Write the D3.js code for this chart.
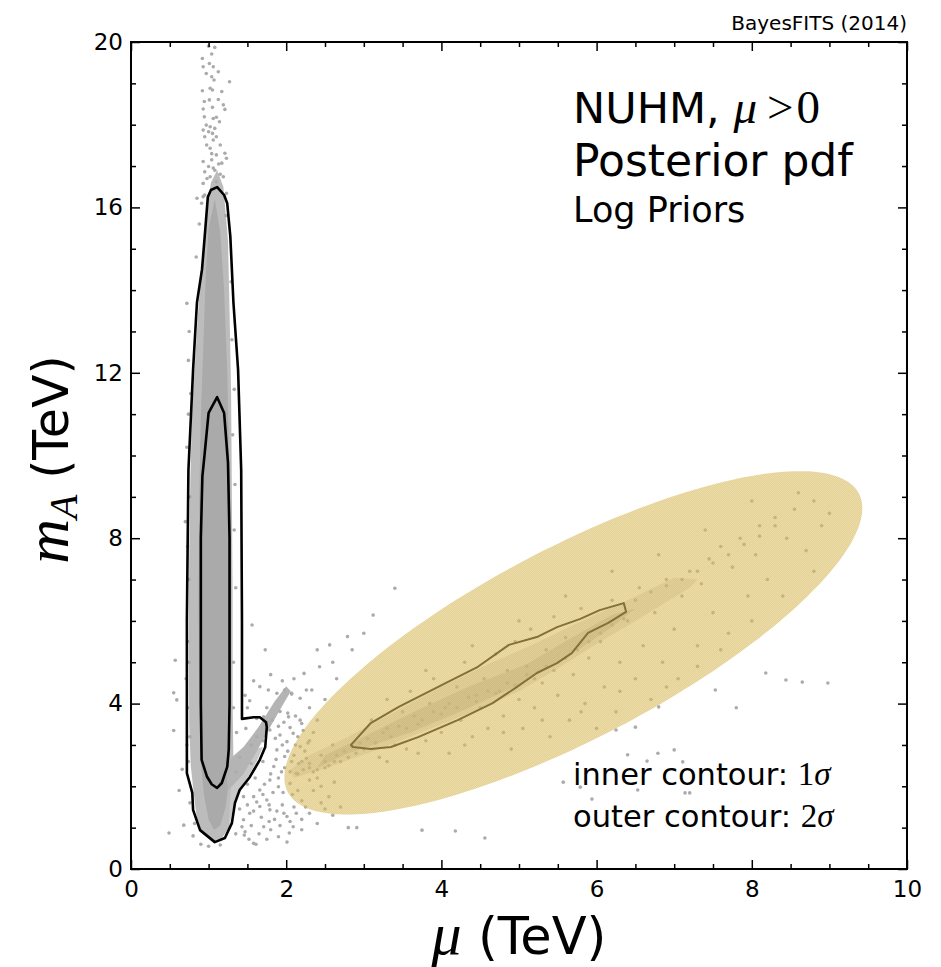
<!DOCTYPE html>
<html lang="en">
<head>
<meta charset="UTF-8">
<title>NUHM posterior pdf, mu vs mA</title>
<script src="https://d3js.org/d3.v7.min.js"></script>
<style>
    body { margin: 0; background: #fff; }
    svg { display: block; }
    .tick text { font-family: "DejaVu Sans", sans-serif; font-size: 23px; fill: #000; }
    .tick line { stroke: #000; stroke-width: 1.5px; }
    .lbl { font-family: "DejaVu Sans", sans-serif; fill: #000; }
    .math { font-family: "Liberation Serif", serif; font-style: italic; }
    .mathup { font-family: "Liberation Serif", serif; }
</style>
</head>
<body>
<svg id="chart" width="941" height="967"></svg>
<script>
// ---- axes / ticks ----
const xTicks = [0, 2, 4, 6, 8, 10];
const yTicks = [0, 4, 8, 12, 16, 20];
const xMinorTicks = [0.5, 1, 1.5, 2.5, 3, 3.5, 4.5, 5, 5.5, 6.5, 7, 7.5, 8.5, 9, 9.5];
const yMinorTicks = [1, 2, 3, 5, 6, 7, 9, 10, 11, 13, 14, 15, 17, 18, 19];

// ---- contours (mu, mA) in TeV ----
const outerContourLeft = [[1.11,16.49],[1.20,16.3],[1.24,16.1],[1.28,15.3],[1.32,13.7],[1.38,12.07],[1.42,9.65],
    [1.43,6.0],[1.43,3.63],[1.58,3.67],[1.66,3.67],[1.74,3.55],[1.75,3.43],[1.73,2.95],[1.66,2.64],[1.53,2.22],
    [1.40,1.91],[1.34,1.6],[1.30,1.11],[1.21,0.75],[1.08,0.65],[0.89,0.94],[0.80,1.43],[0.79,1.84],[0.72,2.32],
    [0.72,6.0],[0.74,9.65],[0.80,12.07],[0.85,13.7],[0.915,14.5],[0.95,15.3],[0.99,16.25],[1.03,16.42]];
const innerContourLeft = [[1.11,11.41],[1.2,11.03],[1.25,9.82],[1.27,8.0],[1.27,4.0],[1.26,2.9],[1.24,2.47],
    [1.17,2.08],[1.11,1.96],[1.04,2.05],[0.98,2.23],[0.91,2.64],[0.90,4.0],[0.90,8.0],[0.92,9.5],[0.95,10.06],[1.0,11.03]];
const innerContourRight = [[2.835,3.00],[3.09,3.53],[3.45,3.92],[4.06,4.50],[4.47,4.89],[4.87,5.42],[5.23,5.61],
    [5.49,5.85],[5.79,6.05],[6.04,6.26],[6.35,6.43],[6.38,6.22],[6.15,5.95],[5.89,5.71],[5.68,5.22],[5.49,4.98],
    [5.23,4.74],[4.97,4.40],[4.66,4.01],[4.21,3.60],[3.70,3.19],[3.35,2.95],[3.09,2.90],[2.86,2.95]];

// ---- highlighted ellipse: centre, end of major axis, end of minor axis ----
const ellipseCenter = [5.70, 5.47];
const ellipseMajorTip = [9.38, 9.08];
const ellipseMinorTip = [5.13, 7.52];

// ---- dense parts of the sample cloud ----
const cloudHalo = [[1.11,16.9],[1.03,16.6],[0.97,15.9],[0.92,14.8],[0.87,13.6],[0.83,12.4],[0.79,11.2],[0.765,9.5],
    [0.75,7.5],[0.745,5.5],[0.75,3.5],[0.77,2.5],[0.81,1.8],[0.85,1.2],[0.92,0.85],[1.05,0.68],[1.17,0.74],[1.26,1.0],
    [1.31,1.5],[1.36,2.0],[1.32,2.6],[1.31,4.0],[1.31,6.5],[1.30,9.0],[1.29,11.5],[1.27,13.5],[1.25,15.2],[1.19,16.5]];
const cloudCore = [[1.08,16.2],[1.0,15.5],[0.96,14.2],[0.93,12.5],[0.9,11.0],[0.88,9.0],[0.87,6.5],[0.88,4.0],
    [0.9,2.6],[0.94,1.8],[1.0,1.2],[1.07,0.95],[1.15,1.05],[1.22,1.5],[1.27,2.3],[1.28,4.0],[1.28,7.0],[1.27,9.5],
    [1.24,12.0],[1.2,14.0],[1.15,15.4]];
const cloudStreak = [[1.25,1.9],[1.45,2.3],[1.62,2.85],[1.80,3.45],[1.95,3.95],[2.06,4.3],[2.0,4.42],[1.85,4.05],
    [1.65,3.45],[1.45,2.95],[1.3,2.7],[1.22,2.4]];
const cloudBulge = [[1.26,1.0],[1.32,1.5],[1.38,1.9],[1.5,2.2],[1.62,2.6],[1.7,2.95],[1.6,2.9],[1.45,2.6],
    [1.32,2.4],[1.28,1.8]];
const ridgeWide = [[2.1,2.2],[2.6,2.5],[3.2,2.9],[3.8,3.35],[4.4,3.8],[5.0,4.3],[5.5,4.85],[6.0,5.45],[6.5,6.0],
    [7.2,6.8],[7.3,7.0],[7.0,7.05],[6.4,6.5],[5.7,5.9],[5.2,5.45],[4.6,4.95],
    [4.0,4.4],[3.4,3.8],[2.8,3.2],[2.3,2.75],[2.05,2.4]];
const ridgeCore = [[2.4,2.45],[2.8,2.8],[3.6,3.3],[4.3,3.85],[5.0,4.45],[5.6,5.1],[6.2,5.85],[6.5,6.3],[6.2,6.15],
    [5.5,5.4],[5.1,4.95],[4.4,4.45],[3.7,3.85],[3.0,3.2],[2.5,2.75]];

// ---- individual samples ----
const spikePts = [[1.0,19.90],[1.08,19.87],[1.04,19.71],[0.92,19.60],[1.01,19.48],[0.93,19.40],[1.06,19.40],
    [0.97,19.24],[1.125,19.28],[1.27,19.04],[1.04,19.16],[1.07,19.08],[0.92,18.82],[1.02,18.88],[1.05,18.84],
    [1.17,18.80],[0.945,18.56],[1.01,18.60],[1.125,18.61],[1.05,18.42],[1.19,18.48],[1.21,18.37],[0.93,18.38],
    [0.945,18.19],[1.06,18.15],[1.10,18.18],[1.14,18.07],[0.97,17.99],[1.02,17.95],[1.08,17.91],[0.93,17.87],
    [1.0,17.83],[1.05,17.79],[0.95,17.71],[1.10,17.71],[1.06,17.63],[0.975,17.51],[1.15,17.51],[1.02,17.43],
    [1.21,17.31],[1.23,17.19],[0.93,17.11],[1.10,17.27],[1.04,17.15],[1.17,17.07],[1.0,16.99],[1.08,16.90],
    [0.95,16.86],[1.19,16.74],[1.02,16.74],[0.93,16.58],[1.10,16.62],[0.85,16.22],[0.93,16.26],[1.23,16.34],[0.91,16.10],
    [1.13,17.05],[1.06,16.95],[0.98,16.7],[1.15,16.8],[1.04,17.3]];
const clusterEdgePts = [[0.74,12.3],[0.72,13.68],[0.75,13.0],[0.77,11.5],[0.74,11.0],[0.76,9.0],[0.7,8.4],[0.75,7.0],
    [0.73,5.5],[0.75,5.0],[0.57,5.05],[0.59,4.09],[0.76,3.2],[0.74,2.6],[0.55,4.26],[0.55,3.35],[0.66,2.41],[0.62,1.9],
    [0.68,1.06],[0.49,0.87],[0.8,0.8],[0.9,0.6],[1.0,0.55],[1.15,0.58],[1.31,10.5],[1.33,8.2],[1.3,12.8],[1.29,14.2],
    [1.35,6.8],[1.32,5.0],[0.84,14.8],[0.88,15.6],[0.95,16.3],[1.22,15.8],[0.72,10.2],[0.73,7.8],[0.71,4.6],
    [0.73,3.9],[0.72,3.0],[0.76,1.6],[0.82,1.1],[1.33,11.6],[1.34,9.3],[1.32,3.9],[1.36,3.3],[1.4,2.7],[1.35,2.35]];
const midPts = [[1.53,4.07],[1.66,4.41],[1.88,4.25],[1.98,4.33],[2.07,4.23],[2.18,4.13],[2.26,4.33],[1.79,3.36],
    [1.86,3.16],[1.92,3.24],[2.01,3.08],[2.09,3.28],[2.18,2.96],[1.88,2.88],[1.98,2.72],[2.07,2.6],[1.84,2.48],
    [1.94,2.35],[1.79,2.15],[1.90,1.99],[1.66,1.91],[1.58,1.75],[1.75,1.67],[1.66,1.51],[1.53,1.35],[1.79,1.43],
    [1.45,1.19],[2.01,1.27],[1.71,1.02],[1.47,0.9],[2.13,1.35],[2.09,1.02],[1.58,0.62],[1.90,0.78],[1.43,1.02],
    [2.05,2.07],[2.13,2.31],[2.26,2.68],[2.2,3.52],[2.03,3.68],[1.92,3.81],[1.71,3.68],[1.62,3.64],[1.46,0.82],
    [1.61,0.6],[2.01,0.65],[2.04,0.87],[2.8,1.0],[2.91,1.0],[3.75,0.94],[4.18,0.92],[4.56,0.75],[3.40,6.79],
    [3.12,6.14],[2.79,5.62],[2.56,5.42],[2.43,4.89],[2.23,4.73],[2.07,4.25],[2.33,4.33],[2.02,3.77],[2.18,3.60],
    [1.56,5.9],[1.73,5.3],[1.77,4.33],[1.47,4.2],[2.35,1.9],[2.45,1.6],[2.25,1.5],[2.6,1.3],[2.15,1.9],[2.3,3.1],
    [2.4,3.6],[2.5,4.1],[2.65,4.6],[2.3,3.9],[2.12,3.0],[2.22,2.4],[1.7,2.6],[1.6,2.2],[1.5,1.55],[1.85,1.2],[1.95,1.55],
    [1.75,3.9],[1.82,3.6],[1.9,3.45],[1.97,3.55],[2.05,3.42],[2.12,3.7],[2.15,3.2],[2.22,3.35],[2.28,3.05],[2.35,3.3],
    [1.95,3.0],[2.02,2.85],[2.1,2.75],[2.16,2.55],[2.24,2.85],[2.3,2.55],[1.87,2.65],[1.8,2.3],[1.9,2.2],[1.98,2.45],
    [2.05,2.35],[1.72,2.05],[1.83,1.85],[1.96,1.85],[2.08,1.8],[2.2,1.65],[1.7,1.8],[1.62,1.62],[1.78,1.55],[1.88,1.4],
    [1.97,1.35],[2.1,1.5],[2.2,1.2],[2.3,1.35],[1.58,1.4],[1.68,1.25],[1.78,1.15],[1.92,1.05],[2.05,1.15],[1.55,1.05],
    [1.65,0.85],[1.8,0.95],[1.52,0.72],[1.75,0.72],[2.2,0.95],[2.4,1.1],[2.5,1.45],[2.45,2.0],[2.55,1.75],[2.7,1.5],
    [2.62,2.1],[2.4,2.2],[1.55,2.55],[1.5,2.05],[1.45,1.75],[1.35,0.85],[1.4,1.45],[1.62,3.2],[1.55,3.0],[1.7,3.1],
    [1.48,3.4],[1.5,3.9],[1.58,4.55],[1.8,4.7],[1.95,4.55],[2.1,4.6],[2.4,5.3],[2.6,5.0],[2.85,5.3],[3.0,5.7]];
const ellipsePts = [[2.15,2.3],[2.3,2.45],[2.4,2.4],[2.5,2.6],[2.55,2.5],[2.65,2.75],[2.7,2.6],[2.75,2.85],[2.9,2.8],
    [2.95,3.05],[2.3,2.15],[2.45,2.75],[2.6,3.0],[2.2,2.6],
    [3.1,3.6],[3.2,2.7],[3.3,3.4],[3.4,3.0],[3.5,3.8],[3.55,2.9],[3.6,4.3],[3.7,3.5],[3.8,3.1],[3.85,4.0],[3.9,4.6],
    [4.0,3.3],[4.05,3.9],[4.1,2.8],[4.2,4.4],[4.25,3.6],[4.3,5.0],[4.4,3.2],[4.45,4.2],[4.5,3.9],[4.55,4.6],[4.6,3.4],
    [4.7,5.2],[4.75,4.3],[4.8,3.7],[4.85,4.8],[4.9,2.9],[4.95,5.5],[5.0,4.1],[5.05,3.4],
    [5.1,4.9],[5.15,5.8],[5.2,3.9],[5.3,4.5],[5.35,5.3],[5.4,3.2],[5.45,6.1],[5.5,4.2],[5.6,5.6],[5.65,3.6],[5.7,4.7],
    [5.8,6.3],[5.85,4.0],[5.9,5.1],[6.0,3.4],[6.05,5.5],[6.1,4.4],[6.2,6.5],[6.25,3.8],[6.3,5.0],[6.4,6.0],[6.5,4.6],
    [6.55,6.8],[6.6,5.4],[6.7,4.1],[6.75,6.2],[6.85,5.0],[6.9,7.0],[7.0,5.8],[7.05,4.6],
    [7.1,6.6],[7.2,7.2],[7.3,5.4],[7.35,6.9],[7.45,7.5],[7.5,6.2],[7.6,7.8],[7.7,5.7],[7.75,7.3],[7.85,8.0],[7.95,6.6],
    [8.05,7.6],[8.1,8.3],[8.2,7.0],[8.3,8.5],[8.45,8.0],[8.55,8.7],[8.7,7.7],[8.8,8.9],[8.9,8.3],
    [6.5,6.5],[6.7,6.7],[6.9,6.85],[7.1,7.0],[7.3,7.2],[7.5,7.4],[7.7,7.6],[7.9,7.85],[8.1,8.05],[8.3,8.3],
    [2.35,2.35],[2.5,2.45],[2.62,2.6],[2.8,2.7],[2.85,2.95],[3.0,2.9],[3.05,3.15],[3.15,3.05],[3.25,3.3],[3.35,3.2],
    [3.45,3.45],[3.55,3.4],[3.65,3.7],[3.75,3.6],[3.9,3.8],[4.0,3.75],[4.1,4.0],[4.2,3.9],[4.35,4.15],[4.45,4.05],
    [4.6,4.3],[4.7,4.25],[4.85,4.5],[4.95,4.45],[5.1,4.7],[5.2,4.6],[5.35,4.9],[5.45,4.8],[5.6,5.1],[5.75,5.3],
    [5.9,5.5],[6.05,5.7],[6.2,5.9],[6.35,6.05],[3.3,2.6],[3.7,2.8],[4.3,3.0],[4.8,3.3],[5.3,3.6],[5.8,3.8],[6.3,4.3],
    [6.9,4.4],[7.3,4.9],[7.6,5.3],[8.0,6.0],[8.4,6.6],[8.8,7.2],[3.3,4.1],[3.8,4.8],[4.4,5.4],[5.0,6.0],[5.6,6.6],
    [6.2,7.2],[6.8,7.6],[7.4,8.2],[8.0,8.9],[8.6,9.1],[9.0,8.6]];
const rightPts = [[8.18,4.74],[8.44,4.57],[8.65,4.52],[7.53,4.33],[8.98,4.5],[5.57,2.1],[5.79,1.98],[5.94,1.69],
    [6.53,1.91],[6.65,2.61],[6.79,2.8],[7.11,2.59],[7.14,1.84],[7.2,1.84],[6.25,3.36],[6.5,3.43],[7.0,2.88],
    [6.4,2.76],[6.8,3.92],[7.8,3.9]];

// ---- layout ----
const margin = { top: 42, right: 34, bottom: 98, left: 131 };
const width = 941 - margin.left - margin.right;
const height = 967 - margin.top - margin.bottom;

const svg = d3.select('#chart');
const chart = svg.append('g').attr('transform', `translate(${margin.left},${margin.top})`);

const x = d3.scaleLinear().domain([0, 10]).range([0, width]);
const y = d3.scaleLinear().domain([0, 20]).range([height, 0]);

// texture for the ellipse
const defs = svg.append('defs');
const pat = defs.append('pattern').attr('id', 'dots').attr('patternUnits', 'userSpaceOnUse')
    .attr('width', 2).attr('height', 2);
pat.append('rect').attr('width', 2).attr('height', 2).attr('fill', '#e0c46c');
pat.append('rect').attr('width', 1).attr('height', 1).attr('fill', '#d2b252');
pat.append('rect').attr('x', 1).attr('y', 1).attr('width', 1).attr('height', 1).attr('fill', '#d2b252');
defs.append('clipPath').attr('id', 'clip').append('rect').attr('width', width).attr('height', height);

const plot = chart.append('g').attr('clip-path', 'url(#clip)');

const area = d3.line().x(d => x(d[0])).y(d => y(d[1])).curve(d3.curveLinearClosed);

// sample cloud
plot.append('path').datum(cloudHalo).attr('d', area).attr('fill', '#bcbcbc');
plot.append('path').datum(cloudBulge).attr('d', area).attr('fill', '#c8c8c8');
plot.append('path').datum(cloudCore).attr('d', area).attr('fill', '#aaaaaa');
plot.append('path').datum(cloudStreak).attr('d', area).attr('fill', '#b4b4b4');
plot.append('path').datum(ridgeWide).attr('d', area).attr('fill', '#b0b0b0').attr('opacity', 0.35);
plot.append('path').datum(ridgeCore).attr('d', area).attr('fill', '#a0a0a0').attr('opacity', 0.45);

const allPts = [].concat(spikePts, clusterEdgePts, midPts, ellipsePts, rightPts);
plot.selectAll('circle.pt')
    .data(allPts)
    .join('circle')
    .attr('class', 'pt')
    .attr('cx', d => x(d[0]))
    .attr('cy', d => y(d[1]))
    .attr('r', 1.8)
    .attr('fill', '#ababab');

// contours
[outerContourLeft, innerContourLeft].forEach(c => {
    plot.append('path').datum(c).attr('d', area)
        .attr('fill', 'none').attr('stroke', '#000').attr('stroke-width', 2.6).attr('stroke-linejoin', 'round');
});
plot.append('path').datum(innerContourRight).attr('d', area)
    .attr('fill', 'none').attr('stroke', '#000').attr('stroke-width', 2).attr('stroke-linejoin', 'round');

// ellipse drawn on top, see-through
const c0 = [x(ellipseCenter[0]), y(ellipseCenter[1])];
const ua = [x(ellipseMajorTip[0]) - c0[0], y(ellipseMajorTip[1]) - c0[1]];
const ub = [x(ellipseMinorTip[0]) - c0[0], y(ellipseMinorTip[1]) - c0[1]];
const ring = d3.range(0, 360, 3).map(deg => {
    const t = deg * Math.PI / 180;
    return [c0[0] + ua[0] * Math.cos(t) + ub[0] * Math.sin(t), c0[1] + ua[1] * Math.cos(t) + ub[1] * Math.sin(t)];
});
plot.append('path')
    .attr('d', d3.line().curve(d3.curveCardinalClosed)(ring))
    .attr('fill', 'url(#dots)')
    .attr('opacity', 0.6);

// ticks on all four sides, pointing in
function addAxis(makeAxis, transform, major, minor, labels) {
    const g = chart.append('g').attr('transform', transform)
        .call(makeAxis().tickValues(major).tickSizeInner(-9).tickSizeOuter(0).tickPadding(labels ? 12 : 0)
            .tickFormat(labels ? d3.format('d') : () => ''));
    g.select('.domain').remove();
    const m = chart.append('g').attr('transform', transform)
        .call(makeAxis().tickValues(minor).tickSizeInner(-5).tickSizeOuter(0).tickFormat(() => ''));
    m.select('.domain').remove();
    return g;
}
addAxis(() => d3.axisBottom(x), `translate(0,${height})`, xTicks, xMinorTicks, true);
addAxis(() => d3.axisTop(x), 'translate(0,0)', xTicks, xMinorTicks, false);
addAxis(() => d3.axisLeft(y), 'translate(0,0)', yTicks, yMinorTicks, true).selectAll('text').attr('dx', 4);
addAxis(() => d3.axisRight(y), `translate(${width},0)`, yTicks, yMinorTicks, false);

chart.append('rect')
    .attr('width', width).attr('height', height)
    .attr('fill', 'none').attr('stroke', '#000').attr('stroke-width', 2);

// axis titles
const xl = svg.append('text').attr('class', 'lbl')
    .attr('x', margin.left + width / 2).attr('y', 954).attr('text-anchor', 'middle');
xl.append('tspan').attr('class', 'math').attr('font-size', 60).text('μ');
xl.append('tspan').attr('font-size', 51).text(' (TeV)');

const yl = svg.append('text').attr('class', 'lbl')
    .attr('transform', `translate(68,${margin.top + height / 2 + 4}) rotate(-90)`)
    .attr('text-anchor', 'middle');
yl.append('tspan').attr('class', 'math').attr('font-size', 62).text('m');
yl.append('tspan').attr('class', 'math').attr('font-size', 40).attr('dy', 9).text('A');
yl.append('tspan').attr('font-size', 49).attr('dy', -9).text(' (TeV)');

// annotations
svg.append('text').attr('class', 'lbl')
    .attr('x', margin.left + width).attr('y', 30).attr('text-anchor', 'end').attr('font-size', 20)
    .text('BayesFITS (2014)');

const t1 = svg.append('text').attr('class', 'lbl').attr('x', 573).attr('y', 123);
t1.append('tspan').attr('font-size', 43).text('NUHM, ');
t1.append('tspan').attr('class', 'math').attr('font-size', 47).text('μ');
t1.append('tspan').attr('class', 'mathup').attr('font-size', 47).attr('dx', 10).text('>');
t1.append('tspan').attr('class', 'mathup').attr('font-size', 47).attr('dx', 3).text('0');

svg.append('text').attr('class', 'lbl').attr('x', 573).attr('y', 176).attr('font-size', 44).text('Posterior pdf');
svg.append('text').attr('class', 'lbl').attr('x', 573).attr('y', 222).attr('font-size', 35).text('Log Priors');

const legend = [['inner contour: ', '1'], ['outer contour: ', '2']];
legend.forEach((l, i) => {
    const t = svg.append('text').attr('class', 'lbl').attr('x', 573).attr('y', 785 + i * 42);
    t.append('tspan').attr('font-size', 30.5).text(l[0]);
    t.append('tspan').attr('class', 'mathup').attr('font-size', 33).text(l[1]);
    t.append('tspan').attr('class', 'math').attr('font-size', 33).text('σ');
});
</script>
</body>
</html>
